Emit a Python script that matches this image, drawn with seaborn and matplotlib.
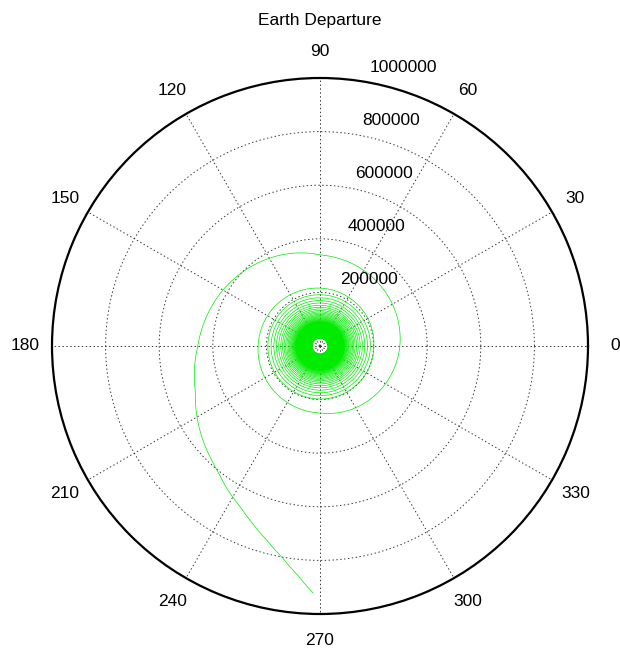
import numpy as np
import pandas as pd
import matplotlib
matplotlib.use("Agg")
import matplotlib.pyplot as plt
import matplotlib.transforms as mtransforms
import seaborn as sns

title = "Earth Departure"

# polar grid
angle_ticks_deg = [0, 30, 60, 90, 120, 150, 180, 210, 240, 270, 300, 330]
radius_ticks_km = [200000, 400000, 600000, 800000, 1000000]
r_max = 1000000

# radius (km) at each pass through 0 deg during the tight departure spiral
spiral_turn_radius_km = [
    28000, 29500, 31000, 32500, 34000, 35500, 37000, 38500, 40000, 41500,
    43000, 44500, 46000, 47500, 49000, 50500, 52000, 53500, 55000, 57000,
    59000, 61000, 63000, 65000, 67000, 69000, 71000, 73000, 75000, 77000,
    79000, 81000, 83000, 85500, 88000, 90500, 93000, 96000, 99000, 102000,
    105500, 109000, 113000, 117000, 121500, 126000, 131000, 137000, 143000,
    150000, 158000, 167000, 177000, 188000, 201000,
]

# last loops and escape leg: polar angle (deg) and radius (km)
escape_angle_deg = [90, 180, 270, 0, 90, 120, 150, 180, 200, 212.3, 225.3,
                    231.6, 237.4, 243.5, 249, 254.8, 260, 264.5, 268.4]
escape_radius_km = [216000, 231000, 250000, 298000, 340000, 378000, 418000,
                    456000, 495000, 538000, 583000, 607000, 638000, 669000,
                    707000, 752000, 803000, 860000, 922000]

# continuous (unwrapped) angle along the trajectory
spiral_theta = 2 * np.pi * np.arange(len(spiral_turn_radius_km))
escape_theta = np.unwrap(np.deg2rad([0.0] + escape_angle_deg))[1:] + spiral_theta[-1]
traj = pd.DataFrame({
    "theta": np.concatenate([spiral_theta, escape_theta]),
    "r": np.concatenate([spiral_turn_radius_km, escape_radius_km]).astype(float),
})

sns.set_style("white")
plt.rcParams["font.family"] = ["Liberation Sans", "DejaVu Sans"]
FS = 12.5

fig = plt.figure(figsize=(6.2, 6.51), dpi=100)
ax = fig.add_axes([52 / 620, 37 / 651, 536 / 620, 536 / 651], projection="polar")

sns.lineplot(data=traj, x="theta", y="r", sort=False, estimator=None,
             color=(0.0, 0.92, 0.0), linewidth=0.5, ax=ax)
# draw each segment as a spiral arc in (theta, r)
ax.lines[-1].get_path()._interpolation_steps = 120

ax.set_ylim(0, r_max)
ax.set_xlabel("")
ax.set_ylabel("")
ax.set_xticks(np.deg2rad(angle_ticks_deg))
ax.set_xticklabels([])
ax.set_yticks(radius_ticks_km[:-1])
ax.set_yticklabels([])
ax.grid(True, color="#3a3a3a", linestyle=(0, (1.5, 2.5)), linewidth=0.7)
ax.spines["polar"].set_color("black")
ax.spines["polar"].set_linewidth(1.6)

# angle labels just outside the rim
for a in angle_ticks_deg:
    ax.text(np.deg2rad(a), 1.1 * r_max, str(a), ha="center", va="center",
            fontsize=FS, color="black", clip_on=False)

# radius labels along the 82 deg ray
lab_tr = mtransforms.offset_copy(ax.transData, fig=fig, x=12.5, y=13, units="dots")
for rv in radius_ticks_km:
    ax.text(np.deg2rad(82), rv, str(rv), ha="left", va="center",
            fontsize=FS, color="black", transform=lab_tr, clip_on=False)

fig.text(320 / 620, 1 - 20 / 651, title, ha="center", va="center",
         fontsize=FS, color="black")

fig.savefig("out.png", dpi=100)
